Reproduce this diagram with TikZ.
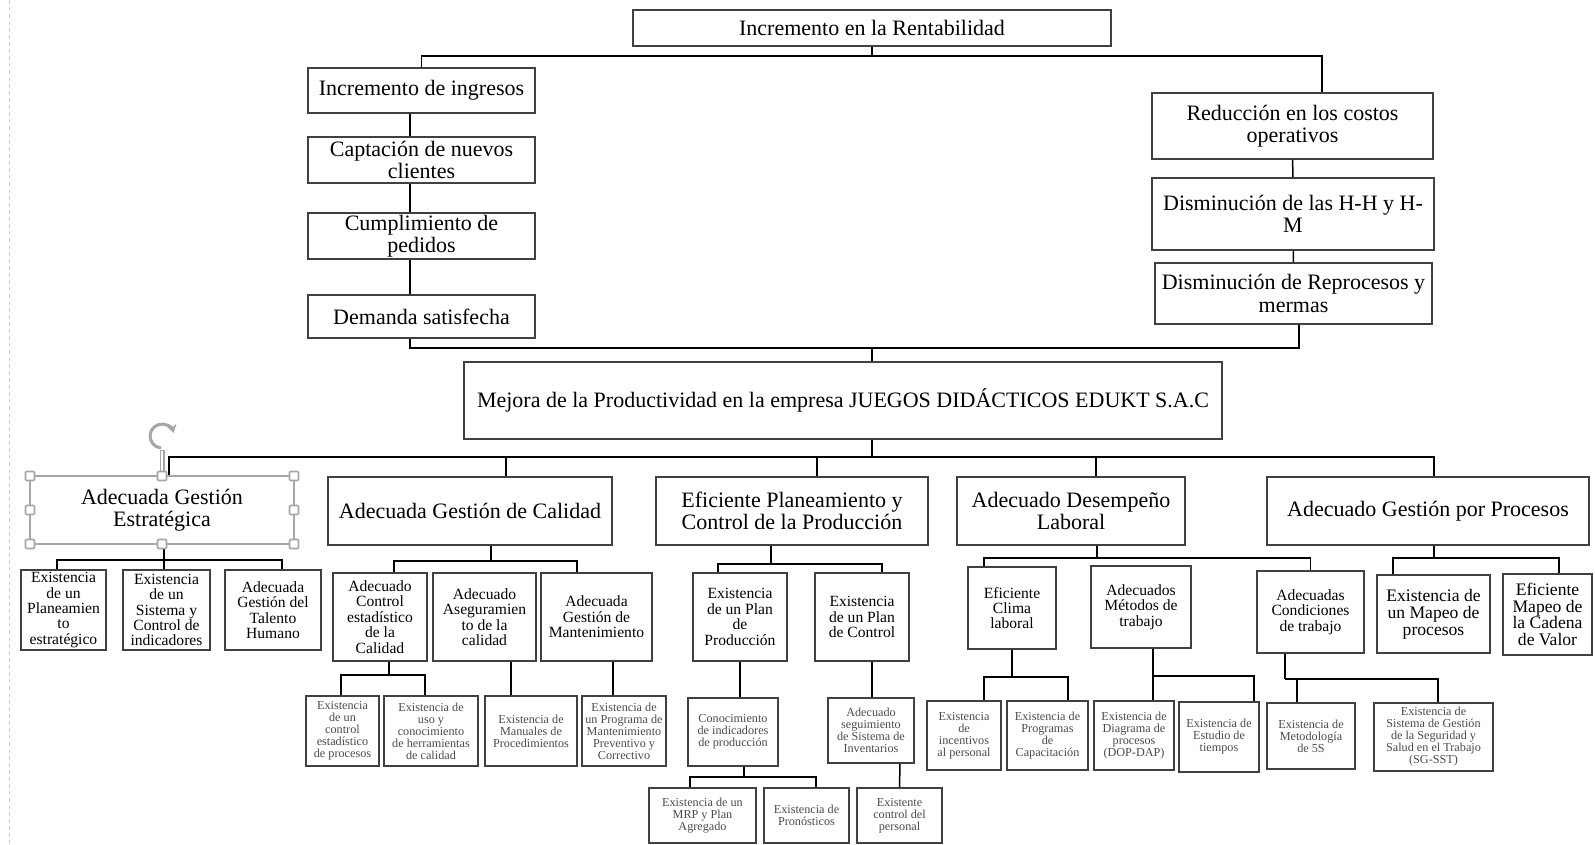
\documentclass[tikz,border=0pt]{standalone}
\usepackage{fontspec}
\setmainfont{Liberation Serif}
\usetikzlibrary{arrows.meta}
\begin{document}
\begin{tikzpicture}[x=1pt,y=-1pt,
  dim/.style 2 args={minimum width=#1pt,minimum height=#2pt},
  box/.style={draw=black!75,line width=1.6pt,fill=white,align=center,inner sep=0pt,
    font=\fontsize{22}{22.5}\selectfont},
  mid/.style={box,font=\fontsize{15.6}{15.4}\selectfont},
  big/.style={box,font=\fontsize{17.6}{16.8}\selectfont},
  leaf/.style={box,text=black!70,font=\fontsize{12.2}{12}\selectfont},
  link/.style={line width=1.5pt},
  sel/.style={draw=black!35,line width=1.6pt}]
  \useasboundingbox (0,0) rectangle (1595,845);
  \fill[white] (0,0) rectangle (1595,845);
  \draw[black!20,line width=1pt,dash pattern=on 4pt off 3pt] (9,0) -- (9,845);

  % top part
  \node[box,dim={478}{36}] (rentab) at (872,28) {Incremento en la Rentabilidad};
  \node[box,dim={227}{45}] (ingresos) at (421.5,90.5) {Incremento de ingresos};
  \node[box,dim={227}{46}] (clientes) at (421.5,160) {Captación de nuevos\\clientes};
  \node[box,dim={227}{46}] (pedidos) at (421.5,236) {Cumplimiento de\\pedidos};
  \node[box,dim={227}{43}] (demanda) at (421.5,316.5) {Demanda satisfecha};
  \node[box,dim={281}{66}] (reduccion) at (1292.5,126) {Reducción en los costos\\operativos};
  \node[box,dim={282}{72}] (hh) at (1293,214) {Disminución de las H-H y H-\\M};
  \node[box,dim={277}{61}] (reprocesos) at (1293.5,293.5) {Disminución de Reprocesos y\\mermas};
  \node[box,dim={758}{77}] (mejora) at (843,400.5)
    {Mejora de la Productividad en la empresa JUEGOS DIDÁCTICOS EDUKT S.A.C};

  % second row
  \node[box,draw=black!35,dim={264}{68}] (estrateg) at (162,510) {Adecuada Gestión\\Estratégica};
  \node[box,dim={284}{68}] (calidad) at (470,511) {Adecuada Gestión de Calidad};
  \node[box,dim={272}{68}] (planeamiento) at (792,511) {Eficiente Planeamiento y\\Control de la Producción};
  \node[box,dim={228}{68}] (desempeno) at (1071,511) {Adecuado Desempeño\\Laboral};
  \node[box,dim={322}{68}] (procesos) at (1428,511) {Adecuado Gestión por Procesos};

  % third row
  \node[mid,dim={85}{80}] (planeam) at (63.5,610) {Existencia\\de un\\Planeamien\\to\\estratégico};
  \node[mid,dim={87}{80}] (sistema) at (166.5,610) {Existencia\\de un\\Sistema y\\Control de\\indicadores};
  \node[mid,dim={96}{80}] (talento) at (273,610) {Adecuada\\Gestión del\\Talento\\Humano};
  \node[mid,dim={94}{88}] (controlest) at (380,617) {Adecuado\\Control\\estadístico\\de la\\Calidad};
  \node[mid,dim={103}{88}] (asegur) at (484.5,617) {Adecuado\\Aseguramien\\to de la\\calidad};
  \node[mid,dim={111}{88}] (manten) at (596.5,617) {Adecuada\\Gestión de\\Mantenimiento};
  \node[mid,dim={94}{88}] (planprod) at (740,617) {Existencia\\de un Plan\\de\\Producción};
  \node[mid,dim={94}{88}] (planctrl) at (862,617) {Existencia\\de un Plan\\de Control};
  \node[mid,dim={88}{82}] (clima) at (1012,608) {Eficiente\\Clima\\laboral};
  \node[mid,dim={100}{82}] (metodos) at (1141,607) {Adecuados\\Métodos de\\trabajo};
  \node[mid,dim={107}{82}] (condiciones) at (1310.5,612) {Adecuadas\\Condiciones\\de trabajo};
  \node[big,dim={113}{78}] (mapeo) at (1433.5,614) {Existencia de\\un Mapeo de\\procesos};
  \node[big,dim={89}{81}] (cadena) at (1547.5,614.5) {Eficiente\\Mapeo de\\la Cadena\\de Valor};

  % fourth row
  \node[leaf,dim={73}{70}] (ctrlproc) at (342.5,731) {Existencia\\de un\\control\\estadístico\\de procesos};
  \node[leaf,dim={94}{70}] (herram) at (431,731) {Existencia de\\uso y\\conocimiento\\de herramientas\\de calidad};
  \node[leaf,dim={92}{70}] (manuales) at (531,731) {Existencia de\\Manuales de\\Procedimientos};
  \node[leaf,dim={84}{70}] (programa) at (624,731) {Existencia de\\un Programa de\\Mantenimiento\\Preventivo y\\Correctivo};
  \node[leaf,dim={90}{68}] (indicadores) at (733,732) {Conocimiento\\de indicadores\\de producción};
  \node[leaf,dim={86}{65}] (inventarios) at (871,730.5) {Adecuado\\seguimiento\\de Sistema de\\Inventarios};
  \node[leaf,dim={74}{69}] (incentivos) at (964,735.5) {Existencia\\de\\incentivos\\al personal};
  \node[leaf,dim={81}{69}] (capacit) at (1047.5,735.5) {Existencia de\\Programas\\de\\Capacitación};
  \node[leaf,dim={80}{69}] (diagrama) at (1134,735.5) {Existencia de\\Diagrama de\\procesos\\(DOP-DAP)};
  \node[leaf,dim={80}{70}] (tiempos) at (1219,737) {Existencia de\\Estudio de\\tiempos};
  \node[leaf,dim={88}{66}] (metod5s) at (1311,736) {Existencia de\\Metodología\\de 5S};
  \node[leaf,dim={119}{68}] (sgsst) at (1433.5,737) {Existencia de\\Sistema de Gestión\\de la Seguridad y\\Salud en el Trabajo\\(SG-SST)};

  % fifth row
  \node[leaf,dim={107}{55}] (mrp) at (702.5,815.5) {Existencia de un\\MRP y Plan\\Agregado};
  \node[leaf,dim={85}{55}] (pronost) at (806.5,815.5) {Existencia de\\Pronósticos};
  \node[leaf,dim={85}{55}] (personal) at (899.5,815.5) {Existente\\control del\\personal};

  % links, upper part
  \coordinate (t1) at (872,56);
  \draw[link] (rentab.south) -- (t1);
  \draw[link] (ingresos.north) |- (t1) -| ([xshift=29.5pt]reduccion.north);
  \foreach \a/\b in {ingresos/clientes,clientes/pedidos,pedidos/demanda}
    \draw[link] ([xshift=-11.5pt]\a.south) -- ([xshift=-11.5pt]\b.north);
  \draw[link] (reduccion) -- (hh);
  \draw[link] (hh) -- (reprocesos);
  \coordinate (t2) at (872,348);
  \draw[link] ([xshift=-11.5pt]demanda.south) |- (t2) -| ([xshift=5.5pt]reprocesos.south);
  \draw[link] (t2) -- (t2 |- mejora.north);

  % links, second row
  \coordinate (t3) at (872,457);
  \draw[link] (t3 |- mejora.south) -- (t3);
  \draw[link] ([xshift=7pt]estrateg.north) |- (t3) -| ([xshift=6pt]procesos.north);
  \draw[link] ([xshift=36pt]calidad.north) |- (t3);
  \draw[link] ([xshift=25pt]planeamiento.north) |- (t3);
  \draw[link] ([xshift=25pt]desempeno.north) |- (t3);

  % links, third row
  \coordinate (e1) at (164,560);
  \draw[link] (estrateg.south -| e1) -- (e1);
  \draw[link] ([xshift=-6.5pt]planeam.north) |- (e1) -| ([xshift=9pt]talento.north);
  \draw[link] (sistema.north -| e1) -- (e1);
  \coordinate (c1) at (491,561);
  \draw[link] (calidad.south -| c1) -- (c1);
  \draw[link] ([xshift=14pt]controlest.north) |- (c1) -| ([xshift=-19.5pt]manten.north);
  \coordinate (p1) at (771,564);
  \draw[link] (planeamiento.south -| p1) -- (p1);
  \draw[link] ([xshift=-22pt]planprod.north) |- (p1) -| ([xshift=20pt]planctrl.north);
  \coordinate (d1) at (1097,558);
  \draw[link] (desempeno.south -| d1) -- (d1);
  \draw[link] ([xshift=-28pt]clima.north) |- (d1) -| (condiciones.north);
  \coordinate (r1) at (1434,558);
  \draw[link] (procesos.south -| r1) -- (r1);
  \draw[link] ([xshift=-40.5pt]mapeo.north) |- (r1) -| ([xshift=11.5pt]cadena.north);

  % links, fourth row
  \coordinate (c2) at (389,675);
  \draw[link] (controlest.south -| c2) -- (c2);
  \draw[link] ([xshift=-1.5pt]ctrlproc.north) |- (c2) -| ([xshift=-6pt]herram.north);
  \draw[link] ([xshift=26.5pt]asegur.south) -- ([xshift=-20pt]manuales.north);
  \draw[link] ([xshift=16.5pt]manten.south) -- ([xshift=-11pt]programa.north);
  \draw[link] (planprod.south) -- ([xshift=7pt]indicadores.north);
  \draw[link] ([xshift=10pt]planctrl.south) -- ([xshift=1pt]inventarios.north);
  \coordinate (d2) at (1012,677);
  \draw[link] (clima.south) -- (d2);
  \draw[link] ([xshift=20pt]incentivos.north) |- (d2) -| ([xshift=20.5pt]capacit.north);
  \coordinate (d3) at (1153,676);
  \draw[link] (metodos.south -| d3) -- (d3);
  \draw[link] ([xshift=19pt]diagrama.north) |- (d3) -| ([xshift=35pt]tiempos.north);
  \coordinate (d4) at (1285,679);
  \draw[link] (condiciones.south -| d4) -- (d4);
  \draw[link] ([xshift=-14pt]metod5s.north) |- (d4) -| ([xshift=4.5pt]sgsst.north);

  % links, fifth row
  \coordinate (p2) at (744,777);
  \draw[link] (indicadores.south -| p2) -- (p2);
  \draw[link] ([xshift=-12.5pt]mrp.north) |- (p2) -| ([xshift=9.5pt]pronost.north);
  \draw[link] ([xshift=29pt]inventarios.south) -- (personal.north);

  % selection handles
  \draw[black!35,line width=5pt] (162,450) -- (162,472);
  \draw[white,line width=2pt] (162,451) -- (162,471);
  \draw[black!35,line width=3pt,-{Stealth[length=8pt,width=10pt]}]
    (161,448) arc[start angle=-95,end angle=-345,radius=12pt];
  \foreach \hx in {30,162,294}
    \foreach \hy in {476,544}
      \filldraw[sel,fill=white,rounded corners=1pt] (\hx-4.5,\hy-4.5) rectangle ++(9,9);
  \foreach \hx in {30,294}
    \filldraw[sel,fill=white,rounded corners=1pt] (\hx-4.5,505.5) rectangle ++(9,9);
\end{tikzpicture}
\end{document}
